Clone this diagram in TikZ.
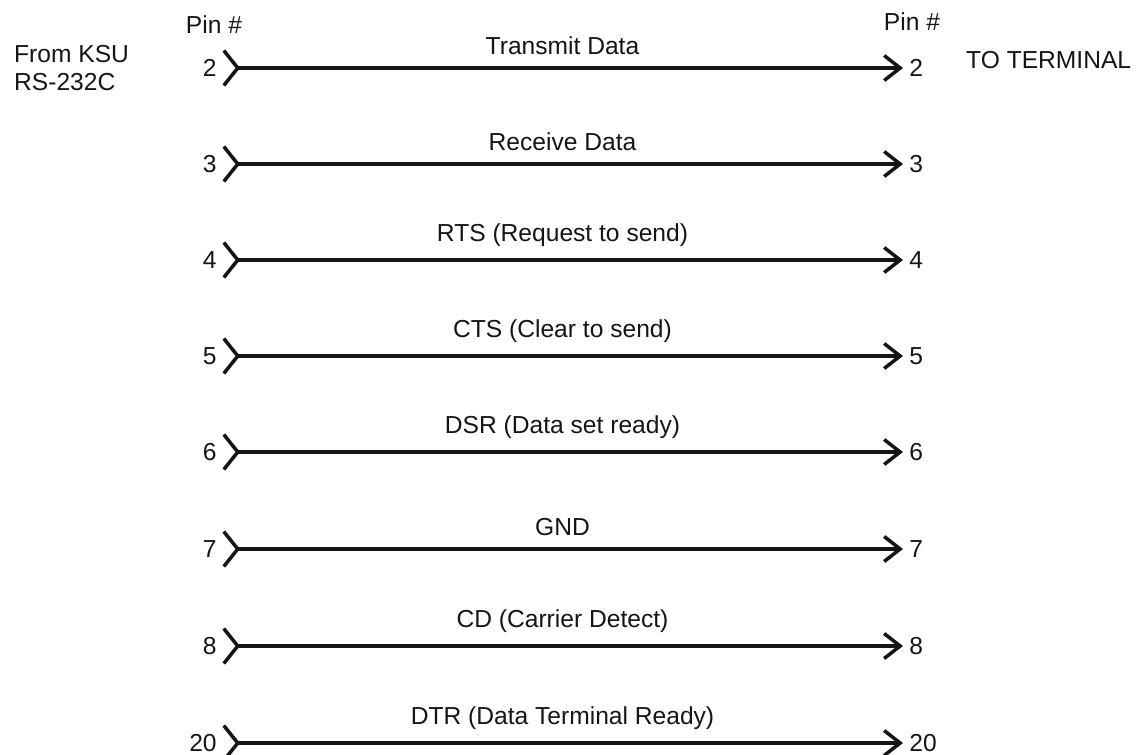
\documentclass[tikz,border=0pt]{standalone}
\usepackage{fontspec}
\setsansfont{Liberation Sans}
\usepackage{xcolor}
\usetikzlibrary{arrows.meta}
\definecolor{inkmain}{HTML}{151515}
\tikzset{every node/.append style={font=\sffamily\fontsize{14}{15.5}\selectfont,text=inkmain}}
\tikzset{
  pinl/.style={anchor=east,inner sep=.1cm},
  pinr/.style={anchor=west,inner sep=.12cm},
  wire/.style={inkmain,line width=2pt,
    {Straight Barb[reversed,length=.28cm,width=.7cm]}-{Straight Barb[length=.32cm,width=.5cm]}},
  sig/.style={above=.12cm}
}

\begin{document}
\begin{tikzpicture}[x=0.02cm,y=-0.02cm]
  \useasboundingbox (0,0) rectangle (1142,754);
  % headings
  \node[anchor=west,align=left] (ksu) at (8,68) {From KSU\\RS-232C};
  \node (hdl) at (214,25) {Pin \#};
  \node (hdr) at (912,22) {Pin \#};
  \node[anchor=west] (term) at (960,60) {TO TERMINAL};
  % one wire per pin
  \node[pinl] (l2) at (222,68) {2};   \node[pinr] (r2) at (903,68) {2};
  \draw[wire] (l2) -- node[sig] {Transmit Data} (r2);
  \node[pinl] (l3) at (222,164) {3};  \node[pinr] (r3) at (903,164) {3};
  \draw[wire] (l3) -- node[sig] {Receive Data} (r3);
  \node[pinl] (l4) at (222,260) {4};  \node[pinr] (r4) at (903,260) {4};
  \draw[wire] (l4) -- node[sig] {RTS (Request to send)} (r4);
  \node[pinl] (l5) at (222,356) {5};  \node[pinr] (r5) at (903,356) {5};
  \draw[wire] (l5) -- node[sig] {CTS (Clear to send)} (r5);
  \node[pinl] (l6) at (222,452) {6};  \node[pinr] (r6) at (903,452) {6};
  \draw[wire] (l6) -- node[sig] {DSR (Data set ready)} (r6);
  \node[pinl] (l7) at (222,549) {7};  \node[pinr] (r7) at (903,549) {7};
  \draw[wire] (l7) -- node[sig] {GND} (r7);
  \node[pinl] (l8) at (222,646) {8};  \node[pinr] (r8) at (903,646) {8};
  \draw[wire] (l8) -- node[sig] {CD (Carrier Detect)} (r8);
  \node[pinl] (l20) at (222,743) {20}; \node[pinr] (r20) at (903,743) {20};
  \draw[wire] (l20) -- node[sig] {DTR (Data Terminal Ready)} (r20);
\end{tikzpicture}
\end{document}
